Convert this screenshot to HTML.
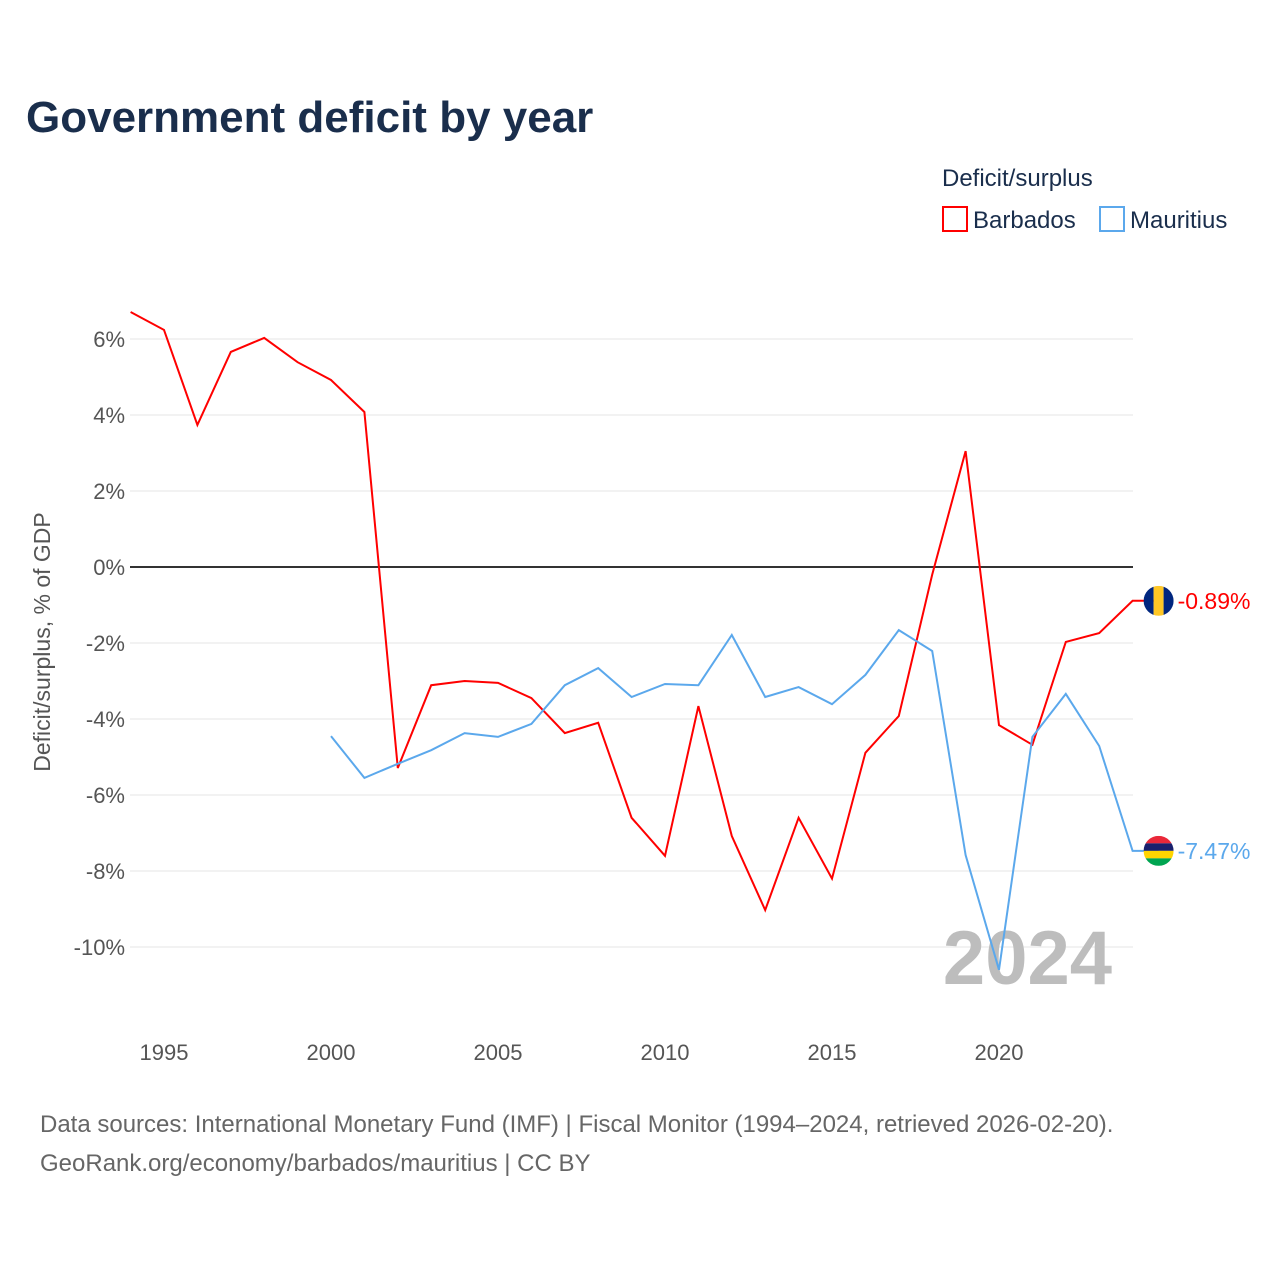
<!DOCTYPE html>
<html><head><meta charset="utf-8"><style>
body{margin:0;background:#fff;font-family:"Liberation Sans",sans-serif;}
svg text{font-family:"Liberation Sans",sans-serif;}
</style></head><body>
<svg id="chart" width="1280" height="1280" viewBox="0 0 1280 1280" xmlns="http://www.w3.org/2000/svg">
<defs>
<clipPath id="cb"><circle cx="0" cy="0" r="15"/></clipPath>
</defs>
<text x="26" y="132" font-size="44" font-weight="bold" fill="#1a2e4c">Government deficit by year</text>
<text x="942" y="186" font-size="24" fill="#1a2e4c">Deficit/surplus</text>
<g><rect x="943" y="207" width="24" height="24" fill="none" stroke="#ff0000" stroke-width="2"/><text x="973" y="228" font-size="24" fill="#1a2e4c">Barbados</text></g>
<g><rect x="1100" y="207" width="24" height="24" fill="none" stroke="#5ba8ec" stroke-width="2"/><text x="1130" y="228" font-size="24" fill="#1a2e4c">Mauritius</text></g>
<text transform="translate(50,642) rotate(-90)" text-anchor="middle" font-size="23" fill="#555">Deficit/surplus, % of GDP</text>
<g id="grid"></g><g id="yticks"></g><g id="xticks"></g>
<text x="1112" y="984" text-anchor="end" font-size="76" font-weight="bold" fill="#bdbdbd">2024</text>
<g id="series"></g>
<text x="40" y="1132" font-size="24" fill="#666">Data sources: International Monetary Fund (IMF) | Fiscal Monitor (1994–2024, retrieved 2026-02-20).</text>
<text x="40" y="1171" font-size="24" fill="#666">GeoRank.org/economy/barbados/mauritius | CC BY</text>
</svg>
<script>
const years=[1994,1995,1996,1997,1998,1999,2000,2001,2002,2003,2004,2005,2006,2007,2008,2009,2010,2011,2012,2013,2014,2015,2016,2017,2018,2019,2020,2021,2022,2023,2024];
const barbados=[6.71,6.24,3.74,5.66,6.03,5.39,4.92,4.08,-5.29,-3.11,-3.0,-3.05,-3.45,-4.37,-4.1,-6.6,-7.6,-3.66,-7.08,-9.03,-6.6,-8.2,-4.89,-3.92,-0.2,3.05,-4.16,-4.68,-1.97,-1.74,-0.89];
const mauritiusYears=[2000,2001,2002,2003,2004,2005,2006,2007,2008,2009,2010,2011,2012,2013,2014,2015,2016,2017,2018,2019,2020,2021,2022,2023,2024];
const mauritius=[-4.45,-5.55,-5.18,-4.82,-4.37,-4.47,-4.13,-3.11,-2.66,-3.42,-3.08,-3.11,-1.79,-3.42,-3.16,-3.61,-2.84,-1.66,-2.21,-7.58,-10.6,-4.47,-3.34,-4.71,-7.47];
const yTicks=[6,4,2,0,-2,-4,-6,-8,-10];
const xTicks=[1995,2000,2005,2010,2015,2020];
const NS="http://www.w3.org/2000/svg";
const xs=y=>130.6+(y-1994)*33.4;
const ys=v=>567-v*38;
function mk(tag,attrs,parent){const e=document.createElementNS(NS,tag);for(const k in attrs)e.setAttribute(k,attrs[k]);(typeof parent==='string'?document.getElementById(parent):parent).appendChild(e);return e;}
yTicks.forEach(t=>{
 const l=mk('line',{x1:130,x2:1133,y1:ys(t),y2:ys(t),stroke:t===0?'#333':'#e6e6e6','stroke-width':t===0?2:1},'grid');
 
 
 const tx=mk('text',{x:125,y:ys(t)+8,'text-anchor':'end','font-size':22,fill:'#555'},'yticks');
 tx.textContent=t+'%';
 
 
});
xTicks.forEach(t=>{
 const tx=mk('text',{x:xs(t),y:1060,'text-anchor':'middle','font-size':22,fill:'#555'},'xticks');
 tx.textContent=t;
 
 
});
function series(xv,yv,color,name,label,stripes){
 const lx=xs(xv[xv.length-1]),ly=ys(yv[yv.length-1]);
 const d=xv.map((x,i)=>(i?'L':'M')+xs(x).toFixed(1)+','+ys(yv[i]).toFixed(1)).join('')+'L'+(lx+26)+','+ly.toFixed(1);
 const p=mk('path',{d:d,fill:'none',stroke:color,'stroke-width':2},'series');
 
 
 const g=mk('g',{transform:'translate('+(lx+26)+','+ly+')','clip-path':'url(#cb)'},'series');
 
 
 stripes.forEach(s=>mk('rect',{x:s[0],y:s[1],width:s[2],height:s[3],fill:s[4]},g));
 const t=mk('text',{x:lx+45,y:ly+8,'font-size':23,fill:color},'series');
 t.textContent=label;
 
 
}
series(years,barbados,'#ff0000','barbados',barbados[barbados.length-1].toFixed(2)+'%',
 [[-15,-15,10,30,'#00267f'],[-5,-15,10,30,'#ffc726'],[5,-15,10,30,'#00267f']]);
series(mauritiusYears,mauritius,'#5ba8ec','mauritius',mauritius[mauritius.length-1].toFixed(2)+'%',
 [[-15,-15,30,7.5,'#ea2839'],[-15,-7.5,30,7.5,'#1a206d'],[-15,0,30,7.5,'#ffd500'],[-15,7.5,30,7.5,'#00a551']]);
</script>
</body></html>
